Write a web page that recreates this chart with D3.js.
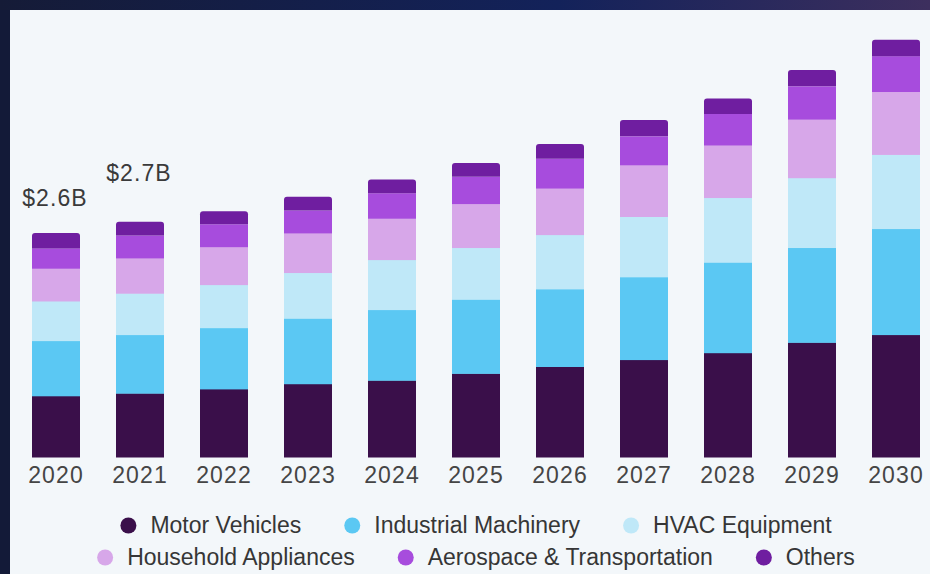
<!DOCTYPE html>
<html>
<head>
<meta charset="utf-8">
<script src="https://cdn.jsdelivr.net/npm/d3@7/dist/d3.min.js"></script>
<style>
  html, body { margin: 0; padding: 0; background: #141b38; }
  svg { display: block; }
</style>
</head>
<body>
<svg id="chart" width="930" height="574"></svg>
<script>
// Market size by application, USD billion
const years = ["2020", "2021", "2022", "2023", "2024", "2025", "2026", "2027", "2028", "2029", "2030"];
const seriesNames = ["Motor Vehicles", "Industrial Machinery", "HVAC Equipment",
                     "Household Appliances", "Aerospace & Transportation", "Others"];
const motorVehicles       = [0.71, 0.74, 0.79, 0.85, 0.89, 0.97, 1.05, 1.13, 1.21, 1.33, 1.42];
const industrialMachinery = [0.64, 0.68, 0.71, 0.76, 0.82, 0.86, 0.90, 0.96, 1.05, 1.10, 1.23];
const hvacEquipment       = [0.46, 0.48, 0.50, 0.53, 0.58, 0.60, 0.63, 0.70, 0.75, 0.81, 0.86];
const householdAppliances = [0.38, 0.41, 0.44, 0.46, 0.48, 0.51, 0.54, 0.60, 0.61, 0.68, 0.73];
const aerospace           = [0.23, 0.26, 0.26, 0.26, 0.29, 0.31, 0.34, 0.33, 0.36, 0.38, 0.41];
const others              = [0.18, 0.16, 0.15, 0.16, 0.16, 0.16, 0.17, 0.19, 0.18, 0.19, 0.19];
const totalLabels = [{ year: "2020", text: "$2.6B" }, { year: "2021", text: "$2.7B" }];

const colors = ["#3a0f4a", "#5bc8f3", "#bfe8f8", "#d7a7e9", "#a74cdd", "#6f1ea0"];

const seriesValues = [motorVehicles, industrialMachinery, hvacEquipment,
                      householdAppliances, aerospace, others];
const rows = years.map((y, i) => {
  const r = { year: y };
  seriesNames.forEach((s, j) => { r[s] = seriesValues[j][i]; });
  return r;
});

const svg = d3.select("#chart");
const W = 930, H = 574;

// dark frame with a gradient header strip
const defs = svg.append("defs");
const grad = defs.append("linearGradient").attr("id", "hdr").attr("x1", 0).attr("x2", 1);
grad.append("stop").attr("offset", "0%").attr("stop-color", "#151b37");
grad.append("stop").attr("offset", "60%").attr("stop-color", "#13225a");
grad.append("stop").attr("offset", "100%").attr("stop-color", "#3d2f5e");
svg.append("rect").attr("width", W).attr("height", H).attr("fill", "#131a38");
svg.append("rect").attr("width", W).attr("height", 10).attr("fill", "url(#hdr)");
svg.append("rect").attr("x", 10).attr("y", 10).attr("width", W - 10).attr("height", H - 10)
  .attr("fill", "#f3f7fa");

const x = d3.scaleBand().domain(years).range([32, 920]).paddingInner(36 / 84).paddingOuter(0);
const y = d3.scaleLinear().domain([0, 5]).range([457, 26]);

const stack = d3.stack().keys(seriesNames);
const stacked = stack(rows);

const g = svg.append("g");
const last = seriesNames.length - 1;

function topRounded(x0, y0, w, h, r) {
  return `M${x0},${y0 + h} L${x0},${y0 + r} Q${x0},${y0} ${x0 + r},${y0} ` +
         `L${x0 + w - r},${y0} Q${x0 + w},${y0} ${x0 + w},${y0 + r} L${x0 + w},${y0 + h} Z`;
}

stacked.forEach((layer, li) => {
  const grp = g.append("g").attr("fill", colors[li]);
  if (li === last) {
    grp.selectAll("path").data(layer).join("path")
      .attr("d", d => topRounded(x(d.data.year), y(d[1]), x.bandwidth(), y(d[0]) - y(d[1]), 3));
  } else {
    grp.selectAll("rect").data(layer).join("rect")
      .attr("x", d => x(d.data.year))
      .attr("y", d => y(d[1]))
      .attr("width", x.bandwidth())
      .attr("height", d => y(d[0]) - y(d[1]) + 0.5);
  }
});

// year axis
const axis = d3.axisBottom(x).tickSize(0).tickPadding(0);
const ax = svg.append("g").attr("transform", "translate(0,483)").call(axis);
ax.select(".domain").remove();
ax.selectAll("text")
  .attr("dy", 0)
  .style("font-family", "'Liberation Sans', Arial, sans-serif")
  .style("font-size", "23px")
  .style("letter-spacing", "1.1px")
  .attr("fill", "#454545");

// total labels
const totals = {};
stacked[last].forEach(d => { totals[d.data.year] = d[1]; });
const labelLift = { "2020": 27, "2021": 41 };
svg.append("g").selectAll("text").data(totalLabels).join("text")
  .attr("x", d => x(d.year) + x.bandwidth() / 2 - 1)
  .attr("y", d => y(totals[d.year]) - labelLift[d.year])
  .attr("text-anchor", "middle")
  .style("font-family", "'Liberation Sans', Arial, sans-serif")
  .style("font-size", "23px")
  .style("letter-spacing", "1.1px")
  .attr("fill", "#3a3a3a")
  .text(d => d.text);

// legend, two centred rows
const legendRows = [[0, 1, 2], [3, 4, 5]];
const rowBase = [533, 565];
const cx = 476;
legendRows.forEach((idxs, ri) => {
  const row = svg.append("g");
  let cursor = 0;
  idxs.forEach((si, k) => {
    const item = row.append("g").attr("transform", `translate(${cursor},0)`);
    item.append("circle").attr("cx", 8).attr("cy", rowBase[ri] - 7.5).attr("r", 8)
      .attr("fill", colors[si]);
    const t = item.append("text").attr("x", 30).attr("y", rowBase[ri])
      .style("font-family", "'Liberation Sans', Arial, sans-serif")
      .style("font-size", "23px")
      .attr("fill", "#363636")
      .text(seriesNames[si]);
    const w = t.node().getComputedTextLength();
    cursor += 30 + w + (k < idxs.length - 1 ? 43 : 0);
  });
  row.attr("transform", `translate(${cx - cursor / 2},0)`);
});
</script>
</body>
</html>
